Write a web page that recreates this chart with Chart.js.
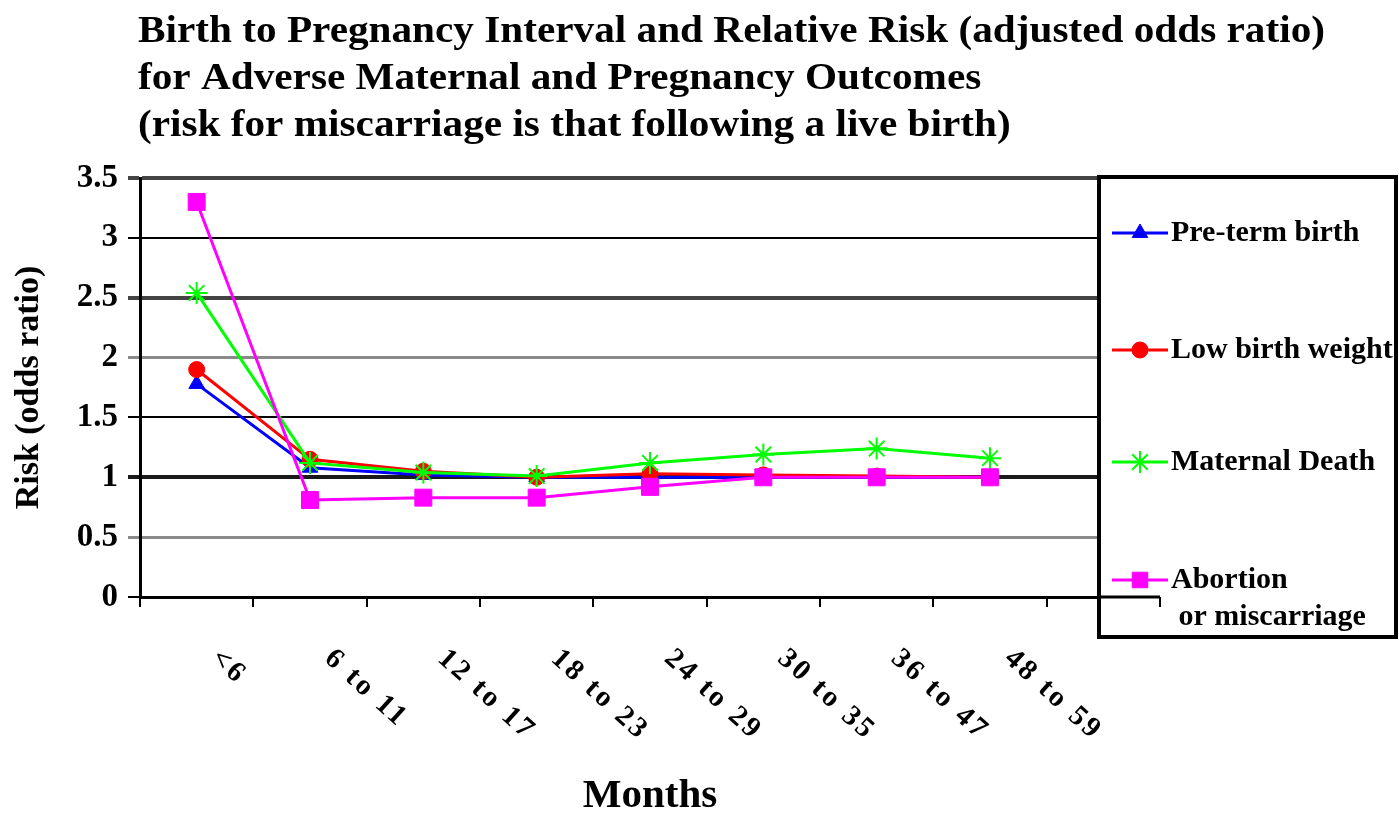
<!DOCTYPE html>
<html>
<head>
<meta charset="utf-8">
<script src="https://cdn.jsdelivr.net/npm/chart.js@4.4.1/dist/chart.umd.min.js"></script>
<style>
  html, body { margin: 0; padding: 0; background: #fff; }
  #wrap { width: 1399px; height: 813px; }
</style>
</head>
<body>
<div id="wrap"><canvas id="riskChart" width="1399" height="813"></canvas></div>
<script>
// categories (the 9th slot is left empty in the original)
const months = ['<6', '6 to 11', '12 to 17', '18 to 23', '24 to 29', '30 to 35', '36 to 47', '48 to 59'];
const slots = [...months, ''];

// adjusted odds ratios
const preTermBirth   = [1.78, 1.08, 1.02, 1.0, 1.0, 1.0, 1.0, 1.0];
const lowBirthWeight = [1.9, 1.15, 1.05, 1.0, 1.03, 1.02, 1.01, 1.0];
const maternalDeath  = [2.54, 1.12, 1.04, 1.01, 1.12, 1.19, 1.24, 1.16];
const abortionMisc   = [3.3, 0.81, 0.83, 0.83, 0.92, 1.0, 1.0, 1.0];

const seriesNames = ['Pre-term birth', 'Low birth weight', 'Maternal Death', 'Abortion or miscarriage'];
const legendText = [['Pre-term birth'], ['Low birth weight'], ['Maternal Death'], ['Abortion', ' or miscarriage']];
const yTickLabels = ['0', '0.5', '1', '1.5', '2', '2.5', '3', '3.5'];
const titleLines = [
  'Birth to Pregnancy Interval and Relative Risk (adjusted odds ratio)',
  'for Adverse Maternal and Pregnancy Outcomes',
  '(risk for miscarriage is that following a live birth)'
];

const SERIF = '"Liberation Serif", "DejaVu Serif", serif';

// grid line look per y value (the scan has uneven lines)
function gridStyle(v) {
  if (v === 3.5 || v === 2.5) return ['#444', 4];
  if (v === 2 || v === 0.5) return ['#8a8a8a', 3];
  if (v === 1) return ['#1a1a1a', 4];
  return ['#000', 2];
}

const titlePlugin = {
  id: 'stretchTitle',
  afterDraw(chart) {
    const ctx = chart.ctx;
    ctx.save();
    ctx.font = 'bold 37px ' + SERIF;
    ctx.fillStyle = '#000';
    ctx.textBaseline = 'alphabetic';
    const sx = 1187 / ctx.measureText(titleLines[0]).width;
    titleLines.forEach((line, i) => {
      ctx.save();
      ctx.translate(138, 42 + i * 47);
      ctx.scale(sx, 1);
      ctx.fillText(line, 0, 0);
      ctx.restore();
    });
    ctx.restore();
  }
};

// slanted month labels (they lean down to the right)
const monthLabels = {
  id: 'monthLabels',
  afterDraw(chart) {
    const ctx = chart.ctx;
    const xs = chart.scales.x;
    ctx.save();
    ctx.font = 'bold 29px ' + SERIF;
    ctx.fillStyle = '#000';
    ctx.textBaseline = 'top';
    ctx.letterSpacing = '3px';
    months.forEach((m, i) => {
      ctx.save();
      ctx.translate(xs.getPixelForValue(i) + 28, 644);
      ctx.rotate(42 * Math.PI / 180);
      ctx.fillText(m, 0, 0);
      ctx.restore();
    });
    ctx.restore();
  }
};

const boxLegend = {
  id: 'boxLegend',
  afterDraw(chart) {
    const ctx = chart.ctx;
    const area = chart.chartArea;
    ctx.save();
    ctx.fillStyle = '#fff';
    ctx.fillRect(1099, 177, 297, 460);
    ctx.strokeStyle = '#000';
    ctx.lineWidth = 4;
    ctx.strokeRect(1099, 177, 297, 460);

    // the x axis shows through the legend box
    ctx.lineWidth = 3;
    ctx.beginPath();
    ctx.moveTo(1099, area.bottom);
    ctx.lineTo(area.right, area.bottom);
    ctx.stroke();
    ctx.lineWidth = 2;
    ctx.beginPath();
    ctx.moveTo(area.right, area.bottom);
    ctx.lineTo(area.right, area.bottom + 10);
    ctx.stroke();

    const rowY = [233, 350, 462, 580];
    ctx.font = 'bold 30px ' + SERIF;
    ctx.textBaseline = 'middle';
    chart.data.datasets.forEach((ds, i) => {
      const y = rowY[i];
      ctx.strokeStyle = ds.borderColor;
      ctx.fillStyle = ds.backgroundColor;
      ctx.lineWidth = 3;
      ctx.beginPath();
      ctx.moveTo(1112, y);
      ctx.lineTo(1168, y);
      ctx.stroke();
      ctx.lineWidth = ds.pointBorderWidth;
      Chart.helpers.drawPoint(ctx, {
        pointStyle: ds.pointStyle, radius: ds.legendRadius, rotation: 0, borderWidth: ds.pointBorderWidth
      }, 1140, y);
      ctx.fillStyle = '#000';
      legendText[i].forEach((t, j) => ctx.fillText(t, 1171, y + j * 37));
    });
    ctx.restore();
  }
};

const colors = ['#0000ff', '#ff0000', '#00ff00', '#ff00ff'];
const styles = ['triangle', 'circle', 'star', 'rect'];
const radii = [9, 8, 11, 12];
const legendRadii = [9, 8, 11, 11];
const values = [preTermBirth, lowBirthWeight, maternalDeath, abortionMisc];

new Chart(document.getElementById('riskChart'), {
  type: 'line',
  data: {
    labels: slots,
    datasets: values.map((vals, i) => ({
      label: seriesNames[i],
      data: vals,
      borderColor: colors[i],
      backgroundColor: colors[i],
      borderWidth: 3,
      pointStyle: styles[i],
      pointRadius: radii[i],
      pointBorderWidth: i === 2 ? 2 : 1,
      legendRadius: legendRadii[i],
      tension: 0,
      fill: false,
      order: 4 - i
    }))
  },
  options: {
    responsive: false,
    animation: false,
    layout: { padding: { top: 178, right: 239, bottom: 0, left: 0 } },
    plugins: {
      legend: { display: false },
      title: { display: false },
      tooltip: { enabled: false }
    },
    scales: {
      x: {
        offset: true,
        afterFit(scale) { scale.height = 216; },
        grid: {
          offset: true,
          drawOnChartArea: false,
          drawTicks: true,
          tickLength: 10,
          color: '#000',
          lineWidth: 2
        },
        border: { display: true, color: '#000', width: 3 },
        ticks: { display: false },
        title: {
          display: true,
          text: 'Months',
          color: '#000',
          font: { family: SERIF, size: 41, weight: 'bold', lineHeight: 1 },
          padding: { top: 0, bottom: -4 }
        }
      },
      y: {
        min: 0,
        max: 3.5,
        afterFit(scale) { scale.width = 140; },
        grid: {
          tickLength: 12,
          color: (c) => gridStyle(c.tick.value)[0],
          lineWidth: (c) => gridStyle(c.tick.value)[1]
        },
        border: { display: true, color: '#000', width: 3 },
        ticks: {
          stepSize: 0.5,
          padding: 10,
          color: '#000',
          font: { family: SERIF, size: 33, weight: 'bold' },
          callback: (v, i) => yTickLabels[i]
        },
        title: {
          display: true,
          text: 'Risk (odds ratio)',
          color: '#000',
          font: { family: SERIF, size: 34, weight: 'bold', lineHeight: 1.2 },
          padding: { top: 9, bottom: 0 }
        }
      }
    }
  },
  plugins: [titlePlugin, monthLabels, boxLegend]
});
</script>
</body>
</html>
